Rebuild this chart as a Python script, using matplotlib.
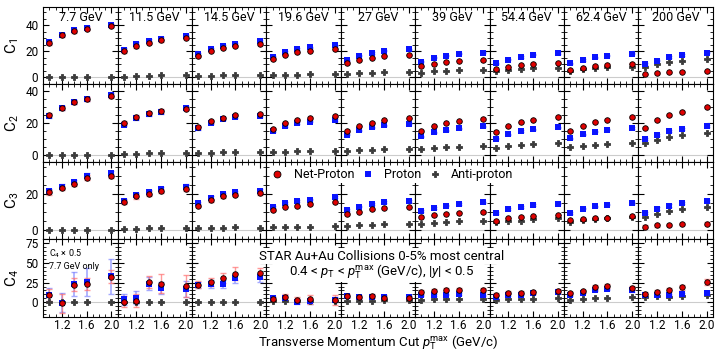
import numpy as np
import matplotlib
matplotlib.use('Agg')
import matplotlib.pyplot as plt
from matplotlib.lines import Line2D
from matplotlib.ticker import MultipleLocator

plt.rcParams['font.family'] = ['Roboto', 'DejaVu Sans']
plt.rcParams['mathtext.fontset'] = 'custom'
plt.rcParams['mathtext.rm'] = 'Roboto'
plt.rcParams['mathtext.it'] = 'Roboto:italic'

energies = ['7.7', '11.5', '14.5', '19.6', '27', '39', '54.4', '62.4', '200']
pt_max = [1.0, 1.2, 1.4, 1.6, 2.0]

# C1
c1_net = [[26.4, 32.3, 35.4, 37.2, 39.5], [20.0, 24.1, 26.7, 28.5, 30.3],
          [16.4, 20.3, 22.8, 24.4, 25.9], [14.1, 17.4, 19.2, 20.5, 21.8],
          [11.0, 13.3, 15.1, 16.4, 17.4], [8.5, 10.5, 11.8, 12.8, 13.3],
          [6.2, 7.9, 9.2, 10.3, 11.3], [5.9, 7.2, 8.7, 9.5, 10.3],
          [2.3, 3.3, 3.8, 4.4, 4.6]]
c1_pro = [[26.9, 32.6, 36.0, 38.0, 40.0], [21.3, 25.9, 28.0, 29.7, 31.5],
          [17.7, 21.8, 24.4, 25.9, 28.0], [15.9, 19.5, 21.8, 23.1, 24.6],
          [13.1, 16.4, 18.7, 20.3, 21.5], [12.1, 14.9, 16.7, 18.2, 19.0],
          [10.8, 13.6, 15.6, 17.4, 18.7], [10.8, 13.3, 15.4, 16.7, 18.2],
          [10.3, 12.8, 15.4, 17.2, 19.0]]
c1_anti = [[0.2, 0.3, 0.3, 0.3, 0.4], [0.5, 1.0, 1.3, 1.5, 1.5],
           [0.8, 1.2, 1.5, 1.7, 1.5], [1.5, 1.8, 2.1, 2.3, 2.3],
           [2.3, 3.1, 3.6, 3.8, 4.1], [3.6, 4.6, 5.1, 5.6, 5.6],
           [4.6, 5.4, 6.4, 6.9, 7.4], [4.9, 6.2, 7.2, 7.7, 8.3],
           [7.9, 10.0, 11.5, 12.8, 14.4]]

# C2
c2_net = [[24.7, 29.4, 32.9, 34.9, 36.7], [19.8, 23.9, 25.9, 27.6, 29.0],
          [17.3, 21.0, 23.0, 24.9, 25.5], [16.5, 20.0, 21.8, 23.1, 24.5],
          [14.9, 18.0, 20.2, 21.6, 22.9], [14.9, 18.0, 19.8, 21.0, 22.4],
          [14.3, 17.8, 20.4, 22.0, 23.7], [14.9, 18.2, 20.6, 22.0, 23.7],
          [17.1, 21.6, 25.1, 27.1, 30.2]]
c2_pro = [[24.5, 29.5, 33.0, 35.0, 37.3], [19.0, 23.0, 25.5, 26.9, 29.4],
          [16.7, 20.0, 22.6, 23.7, 24.3], [14.9, 18.0, 19.8, 20.8, 22.0],
          [12.7, 15.5, 17.3, 18.6, 19.6], [11.6, 14.1, 15.5, 16.7, 17.8],
          [10.2, 12.9, 14.9, 16.1, 17.3], [10.4, 12.9, 14.5, 15.7, 16.9],
          [10.0, 12.7, 14.7, 16.3, 18.0]]
c2_anti = [[0.3, 0.3, 0.3, 0.3, 0.3], [0.6, 0.8, 1.0, 1.2, 1.2],
           [1.2, 1.4, 1.6, 1.8, 1.6], [1.8, 2.0, 2.4, 2.7, 2.7],
           [2.4, 3.1, 3.3, 3.7, 3.9], [3.5, 4.3, 4.9, 5.3, 5.5],
           [4.3, 5.5, 6.3, 6.9, 7.3], [4.7, 5.7, 6.5, 7.1, 7.8],
           [7.8, 9.6, 11.2, 12.4, 13.7]]

# C3
c3_net = [[21.1, 23.4, 25.7, 29.3, 30.2], [15.7, 18.8, 20.4, 22.0, 23.0],
          [13.8, 16.6, 18.8, 19.8, 20.7], [11.4, 13.2, 13.6, 14.5, 15.9],
          [9.1, 10.4, 11.6, 12.3, 12.7], [7.3, 8.4, 9.3, 9.8, 10.2],
          [5.4, 6.6, 7.3, 7.7, 8.4], [5.5, 6.4, 7.0, 7.0, 7.7],
          [2.1, 2.7, 3.2, 3.4, 3.8]]
c3_pro = [[22.0, 24.3, 27.0, 30.4, 31.6], [16.3, 19.5, 21.1, 22.7, 24.3],
          [15.0, 18.0, 20.2, 21.3, 22.0], [13.0, 15.4, 16.3, 17.1, 18.4],
          [11.4, 13.2, 14.6, 15.7, 16.3], [10.7, 12.5, 13.8, 14.6, 15.5],
          [9.6, 11.8, 13.0, 14.1, 14.8], [9.6, 12.0, 13.4, 14.3, 15.2],
          [9.8, 12.1, 13.8, 15.2, 16.4]]
c3_anti = [[0.3, 0.3, 0.3, 0.3, 0.3], [0.7, 0.9, 1.1, 1.1, 1.1],
           [1.1, 1.3, 1.4, 1.6, 1.3], [1.6, 1.8, 2.1, 2.1, 2.3],
           [2.3, 2.9, 3.2, 3.4, 3.6], [3.4, 4.1, 4.5, 5.0, 5.0],
           [4.5, 5.0, 5.4, 6.1, 6.8], [4.9, 5.7, 6.3, 6.8, 7.3],
           [7.3, 9.1, 10.5, 11.6, 12.7]]

# C4 (7.7 GeV scaled by 0.5)
c4_net = [[9.4, -1.2, 22.5, 23.4, 32.4], [0.8, 2.0, 25.8, 23.4, 20.5],
          [22.5, 25.4, 30.7, 36.5, 37.3], [4.1, 6.6, 3.3, 3.7, 2.9],
          [8.2, 7.0, 7.8, 5.3, 4.9], [13.1, 14.8, 16.0, 16.0, 15.6],
          [9.8, 11.9, 12.3, 12.7, 14.3], [11.5, 13.9, 18.9, 20.5, 18.0],
          [11.1, 13.5, 15.6, 18.9, 26.2]]
c4_pro = [[9.8, -0.4, 23.0, 25.8, 32.8], [4.1, 5.7, 23.8, 18.0, 17.2],
          [22.1, 23.0, 23.0, 31.1, 31.6], [4.9, 5.7, 0.8, 1.2, 3.3],
          [7.8, 6.1, 7.0, 6.6, 6.1], [8.6, 9.0, 9.8, 10.2, 8.6],
          [7.0, 9.0, 9.8, 11.5, 13.5], [9.4, 12.3, 15.6, 16.4, 15.6],
          [8.6, 9.8, 9.8, 10.7, 11.5]]
c4_anti = [[0.2, 0.2, 0.2, 0.2, 0.2], [0.3, 0.4, 0.5, 0.6, 0.6],
           [0.6, 0.7, 0.8, 0.9, 0.9], [1.0, 1.2, 1.4, 1.5, 1.6],
           [1.5, 2.0, 2.2, 2.4, 2.5], [2.9, 3.7, 4.1, 4.5, 4.1],
           [3.3, 3.7, 4.1, 4.5, 5.3], [2.9, 3.7, 4.9, 5.7, 6.6],
           [6.6, 7.8, 7.0, 7.8, 8.6]]
c4_net_err = [[8, 12, 8, 8, 8], [7, 8, 8, 12, 14], [4, 5, 6, 8, 6],
              [3, 4, 4, 6, 6], [2, 2, 3, 3, 3], [2, 2, 2, 2, 3],
              [2, 2, 2, 2, 3], [2, 2, 3, 3, 3], [2, 2, 3, 3, 4]]
c4_pro_err = [[8, 12, 15, 18, 22], [7, 8, 8, 8, 10], [4, 5, 5, 6, 6],
              [2, 3, 3, 3, 3], [2, 2, 2, 2, 2], [1, 1, 1, 1, 1],
              [1, 1, 1, 1, 1], [1, 1, 1, 1, 2], [1, 1, 1, 1, 1]]

# small stat. errors of C1-C3 per energy
low_err = [1.2, 1.2, 0.8, 0.5, 0.4, 0.4, 0.4, 0.4, 0.6]

rows = [(c1_net, c1_pro, c1_anti), (c2_net, c2_pro, c2_anti),
        (c3_net, c3_pro, c3_anti), (c4_net, c4_pro, c4_anti)]
row_labels = ['C$_1$', 'C$_2$', 'C$_3$', 'C$_4$']
row_ylim = [(-5.5, 54), (-4.3, 44), (-5.0, 38), (-18.5, 80)]
row_major = [20, 20, 20, 25]

fig, axes = plt.subplots(4, 9, figsize=(7.2, 3.52), dpi=100, sharex=True, sharey='row')
fig.subplots_adjust(left=0.06, right=0.99, top=0.98, bottom=0.1, wspace=0, hspace=0)

red = '#e00000'
blue = '#0a14ff'
gray = '#3a3a3a'

for r, (net, pro, anti) in enumerate(rows):
    for c in range(9):
        ax = axes[r, c]
        ax.axhline(0, color='#cccccc', lw=0.8, zorder=0)
        if r == 3:
            ne, pe = c4_net_err[c], c4_pro_err[c]
        else:
            ne = [low_err[c]] * 5
            pe = [low_err[c]] * 5
        ax.errorbar(pt_max, pro[c], yerr=pe, fmt='none', ecolor='#7f86ff',
                    elinewidth=1.2, capsize=2, alpha=0.7, zorder=2)
        ax.errorbar(pt_max, net[c], yerr=ne, fmt='none', ecolor='#ff7070',
                    elinewidth=1.0, capsize=2, alpha=0.7, zorder=2)
        ax.plot(pt_max, anti[c], 'P', color=gray, ms=4.5, mew=0.6, mec=gray, zorder=3)
        ax.plot(pt_max, pro[c], 's', color=blue, ms=4, mew=0, zorder=4)
        ax.plot(pt_max, net[c], 'o', mfc=red, mec='black', mew=0.6, ms=4, zorder=5)

        ax.set_xlim(0.9, 2.1)
        ax.set_ylim(*row_ylim[r])
        ax.xaxis.set_major_locator(MultipleLocator(0.4))
        ax.xaxis.set_minor_locator(MultipleLocator(0.1))
        ax.yaxis.set_major_locator(MultipleLocator(row_major[r]))
        ax.yaxis.set_minor_locator(MultipleLocator(5))
        ax.tick_params(which='both', direction='in', top=True, right=True, labelsize=8.5)
        ax.tick_params(axis='x', pad=1.5)
        ax.tick_params(which='major', length=4)
        ax.tick_params(which='minor', length=2)
        if r == 0:
            ax.text(0.5, 0.86, energies[c] + ' GeV', transform=ax.transAxes,
                    ha='center', va='center', fontsize=9)
    axes[r, 0].set_ylabel(row_labels[r], fontsize=11, labelpad=3)

for ax in axes[3]:
    ax.set_xticks([1.2, 1.6, 2.0])
    ax.set_xticklabels(['1.2', '1.6', '2.0'])

axes[3, 0].text(0.08, 0.9, 'C$_4$ × 0.5\n7.7 GeV only', transform=axes[3, 0].transAxes,
                ha='left', va='top', fontsize=6.5, linespacing=1.3)

handles = [
    Line2D([], [], ls='none', marker='o', mfc=red, mec='black', mew=0.6, ms=5),
    Line2D([], [], ls='none', marker='s', color=blue, ms=5, mew=0),
    Line2D([], [], ls='none', marker='P', color=gray, ms=5, mew=0.6, mec=gray),
]
leg = fig.legend(handles, ['Net-Proton', 'Proton', 'Anti-proton'], loc='center',
                 bbox_to_anchor=(0.545, 0.503), ncol=3, frameon=True, fontsize=9,
                 handletextpad=0.8, columnspacing=0.6, handlelength=1.0,
                 borderpad=0.1, fancybox=False)
leg.get_frame().set_facecolor('white')
leg.get_frame().set_edgecolor('none')
leg.get_frame().set_alpha(1)
leg.set_zorder(20)

box = dict(facecolor='white', edgecolor='none', pad=1.0)
fig.text(0.53, 0.272, 'STAR Au+Au Collisions 0-5% most central', ha='center',
         va='center', fontsize=9.5, bbox=box, zorder=20)
fig.text(0.53, 0.229, r'0.4 < $p_{\mathrm{T}}$ < $p_{\mathrm{T}}^{\mathrm{max}}$ (GeV/c), |$y$| < 0.5',
         ha='center', va='center', fontsize=9.5, bbox=box, zorder=20)
fig.text(0.525, 0.0, r'Transverse Momentum Cut $p_{\mathrm{T}}^{\mathrm{max}}$ (GeV/c)',
         ha='center', va='bottom', fontsize=9.5)

fig.savefig('out.png', dpi=100)
